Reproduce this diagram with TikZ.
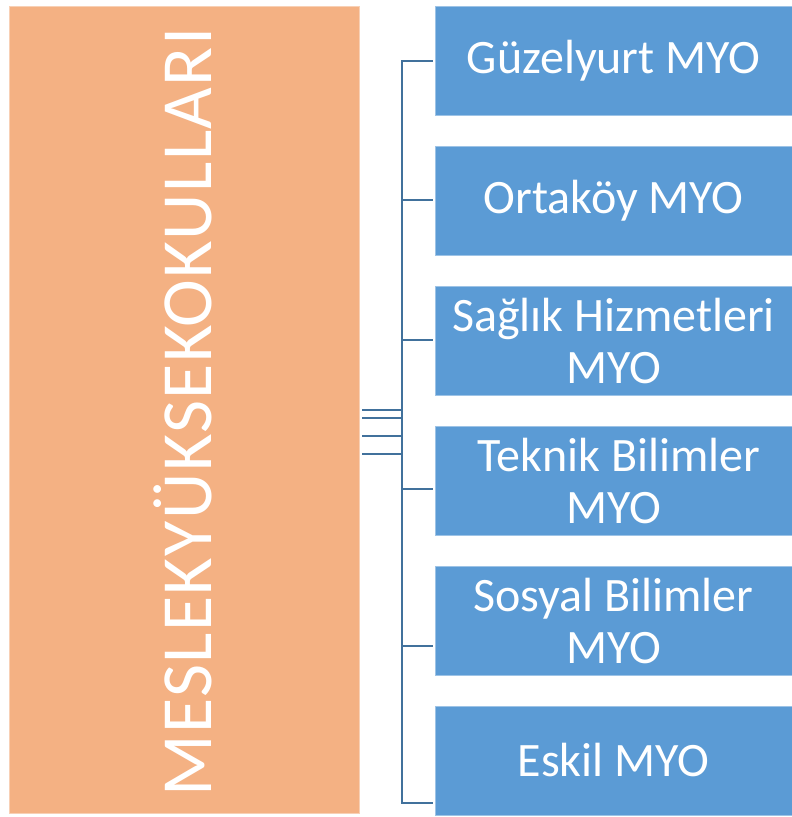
\documentclass[tikz,border=0pt]{standalone}
\usepackage{fontspec}
\setmainfont{Carlito}
\newfontfamily\widefont[LetterSpace=2]{Carlito}
\definecolor{orangefill}{RGB}{244,177,131}
\definecolor{bluefill}{RGB}{91,155,213}
\definecolor{connblue}{RGB}{65,113,156}
\begin{document}
\begin{tikzpicture}[x=1pt,y=-1pt,
  mainbox/.style={draw=orangefill!60!white,line width=0.8pt,fill=orangefill,inner sep=0pt,outer sep=0pt},
  unitbox/.style={draw=bluefill!60!white,line width=0.8pt,fill=bluefill,inner sep=0pt,outer sep=0pt,
    minimum width=357pt,minimum height=109pt,text=white,align=center,
    font=\fontsize{48}{52}\selectfont},
  conn/.style={draw=connblue,line width=2.4pt}]
\useasboundingbox (0,0) rectangle (792,817);
% left box
\node[mainbox,minimum width=350pt,minimum height=807pt,anchor=north west] (L) at (9,6) {};
\node[text=white,rotate=90,font=\widefont\fontsize{72}{80}\selectfont,inner sep=0pt] (LT) at (183,412) {MESLEKYÜKSEKOKULLARI};
% right boxes
\node[unitbox,anchor=north west] (b1) at (435,6) {Güzelyurt MYO};
\node[unitbox,anchor=north west] (b2) at (435,146) {Ortaköy MYO};
\node[unitbox,anchor=north west] (b3) at (435,286) {Sağlık Hizmetleri\\MYO};
\node[unitbox,anchor=north west] (b4) at (435,426) {\ Teknik Bilimler\\MYO};
\node[unitbox,anchor=north west] (b5) at (435,566) {Sosyal Bilimler\\MYO};
\node[unitbox,anchor=north west] (b6) at (435,706) {Eskil MYO};
% junctions on trunk
\coordinate (j1) at (402,61);
\coordinate (j2) at (402,200);
\coordinate (j3) at (402,340);
\coordinate (j4) at (402,489);
\coordinate (j5) at (402,646);
\coordinate (j6) at (402,803);
\coordinate (s1) at (402,410);
\coordinate (s2) at (402,418);
\coordinate (s3) at (402,436);
\coordinate (s4) at (402,454);
% trunk
\draw[conn,line cap=rect] (j1) -- (j6);
% branches
\foreach \i in {1,...,6} {\draw[conn] (j\i) -- ([xshift=-2pt]j\i -| b\i.west);}
% short lines from main box
\foreach \i in {1,...,4} {\draw[conn] ([xshift=3pt]s\i -| L.east) -- (s\i);}
\end{tikzpicture}
\end{document}
